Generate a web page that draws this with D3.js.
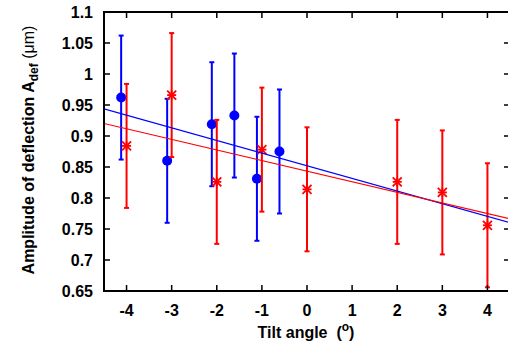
<!DOCTYPE html>
<html>
<head>
<meta charset="utf-8">
<script src="https://cdn.jsdelivr.net/npm/d3@7"></script>
<style>
  body { margin: 0; background: #fff; }
  text { font-family: "Liberation Sans", Arial, sans-serif; }
</style>
</head>
<body>
<div id="chart"></div>
<script>
// blue series (filled circles)
const blueX = [-4.12, -3.10, -2.11, -1.61, -1.11, -0.61];
const blueY = [0.962, 0.860, 0.919, 0.933, 0.831, 0.875];
const blueErr = [0.1, 0.1, 0.1, 0.1, 0.1, 0.1];

// red series (asterisks)
const redX = [-4, -3, -2, -1, 0, 2, 3, 4];
const redY = [0.884, 0.966, 0.826, 0.878, 0.814, 0.826, 0.809, 0.756];
const redErr = [0.1, 0.1, 0.1, 0.1, 0.1, 0.1, 0.1, 0.1];

// linear fits: [intercept, slope]
const blueFit = [0.852, -0.0204];
const redFit = [0.8432, -0.0171];

const xTicks = [-4, -3, -2, -1, 0, 1, 2, 3, 4];
const yTicks = [0.65, 0.7, 0.75, 0.8, 0.85, 0.9, 0.95, 1, 1.05, 1.1];

const width = 508;
const height = 350;
const mLeft = 104, mRight = 510, mTop = 12, mBottom = 291;

const x = d3.scaleLinear().domain([-4.5, 4.5]).range([mLeft, mRight]);
const y = d3.scaleLinear().domain([0.65, 1.1]).range([mBottom, mTop]);

const svg = d3.select('#chart')
  .append('svg')
  .attr('width', width)
  .attr('height', height);

// clip for fit lines
svg.append('clipPath').attr('id', 'clip')
  .append('rect')
  .attr('x', mLeft).attr('y', mTop)
  .attr('width', mRight - mLeft).attr('height', mBottom - mTop);

const plot = svg.append('g');

// ticks (inward, mirrored)
const tickLen = 6;
const axisG = svg.append('g').attr('stroke', '#000').attr('stroke-width', 1.5);
xTicks.forEach(t => {
  axisG.append('line').attr('x1', x(t)).attr('x2', x(t)).attr('y1', mBottom).attr('y2', mBottom - tickLen);
  axisG.append('line').attr('x1', x(t)).attr('x2', x(t)).attr('y1', mTop).attr('y2', mTop + tickLen);
});
yTicks.forEach(t => {
  axisG.append('line').attr('x1', mLeft).attr('x2', mLeft + tickLen).attr('y1', y(t)).attr('y2', y(t));
  axisG.append('line').attr('x1', mRight).attr('x2', mRight - tickLen).attr('y1', y(t)).attr('y2', y(t));
});

// tick labels
svg.append('g').selectAll('text')
  .data(xTicks)
  .enter()
  .append('text')
  .attr('x', d => x(d))
  .attr('y', 316)
  .attr('text-anchor', 'middle')
  .style('font-size', '16px')
  .style('font-weight', 'bold')
  .text(d => d);

svg.append('g').selectAll('text')
  .data(yTicks)
  .enter()
  .append('text')
  .attr('x', 93)
  .attr('y', d => y(d) + 6)
  .attr('text-anchor', 'end')
  .style('font-size', '16px')
  .style('font-weight', 'bold')
  .text(d => d3.format('')(d));

// error bars + markers
function drawSeries(xs, ys, errs, color, marker) {
  const g = plot.append('g').attr('stroke', color).attr('stroke-width', 2);
  xs.forEach((xv, i) => {
    const cx = x(xv);
    const y1 = y(ys[i] + errs[i]);
    const y2 = y(ys[i] - errs[i]);
    g.append('line').attr('x1', cx).attr('x2', cx).attr('y1', y1).attr('y2', y2);
    g.append('line').attr('x1', cx - 2.5).attr('x2', cx + 2.5).attr('y1', y1).attr('y2', y1);
    g.append('line').attr('x1', cx - 2.5).attr('x2', cx + 2.5).attr('y1', y2).attr('y2', y2);
    const cy = y(ys[i]);
    if (marker === 'circle') {
      g.append('circle').attr('cx', cx).attr('cy', cy).attr('r', 5)
        .attr('fill', color).attr('stroke', 'none');
    } else {
      const s = 4.5;
      const p = g.append('g').attr('stroke-width', 1.8);
      p.append('line').attr('x1', cx - s).attr('x2', cx + s).attr('y1', cy).attr('y2', cy);
      p.append('line').attr('x1', cx).attr('x2', cx).attr('y1', cy - s).attr('y2', cy + s);
      p.append('line').attr('x1', cx - s).attr('x2', cx + s).attr('y1', cy - s).attr('y2', cy + s);
      p.append('line').attr('x1', cx - s).attr('x2', cx + s).attr('y1', cy + s).attr('y2', cy - s);
    }
  });
}
drawSeries(blueX, blueY, blueErr, '#0000ff', 'circle');
drawSeries(redX, redY, redErr, '#ff0000', 'star');

// fit lines
const fitG = plot.append('g').attr('clip-path', 'url(#clip)');
[[blueFit, '#0000ff'], [redFit, '#ff0000']].forEach(([f, c]) => {
  const xs = x.domain();
  fitG.append('line')
    .attr('x1', x(xs[0])).attr('y1', y(f[0] + f[1] * xs[0]))
    .attr('x2', x(xs[1])).attr('y2', y(f[0] + f[1] * xs[1]))
    .attr('stroke', c).attr('stroke-width', 1.2);
});

// frame
svg.append('rect')
  .attr('x', mLeft).attr('y', mTop)
  .attr('width', mRight - mLeft).attr('height', mBottom - mTop)
  .attr('fill', 'none').attr('stroke', '#000').attr('stroke-width', 2);

// axis titles
const xt = svg.append('text')
  .attr('x', 306)
  .attr('y', 338)
  .attr('text-anchor', 'middle')
  .attr('xml:space', 'preserve')
  .style('white-space', 'pre')
  .style('font-size', '16px')
  .style('font-weight', 'bold');
xt.append('tspan').text('Tilt angle  (');
xt.append('tspan').attr('dy', -7).style('font-size', '12px').text('o');
xt.append('tspan').attr('dy', 7).text(')');

const yt = svg.append('text')
  .attr('transform', 'translate(34,150) rotate(-90)')
  .attr('text-anchor', 'middle')
  .style('font-size', '16px')
  .style('font-weight', 'bold');
yt.append('tspan').text('Amplitude of deflection A');
yt.append('tspan').attr('dy', 4).style('font-size', '12px').text('def');
yt.append('tspan').attr('dy', -4).style('font-weight', 'normal').text(' (\u03bcm)');
</script>
</body>
</html>
